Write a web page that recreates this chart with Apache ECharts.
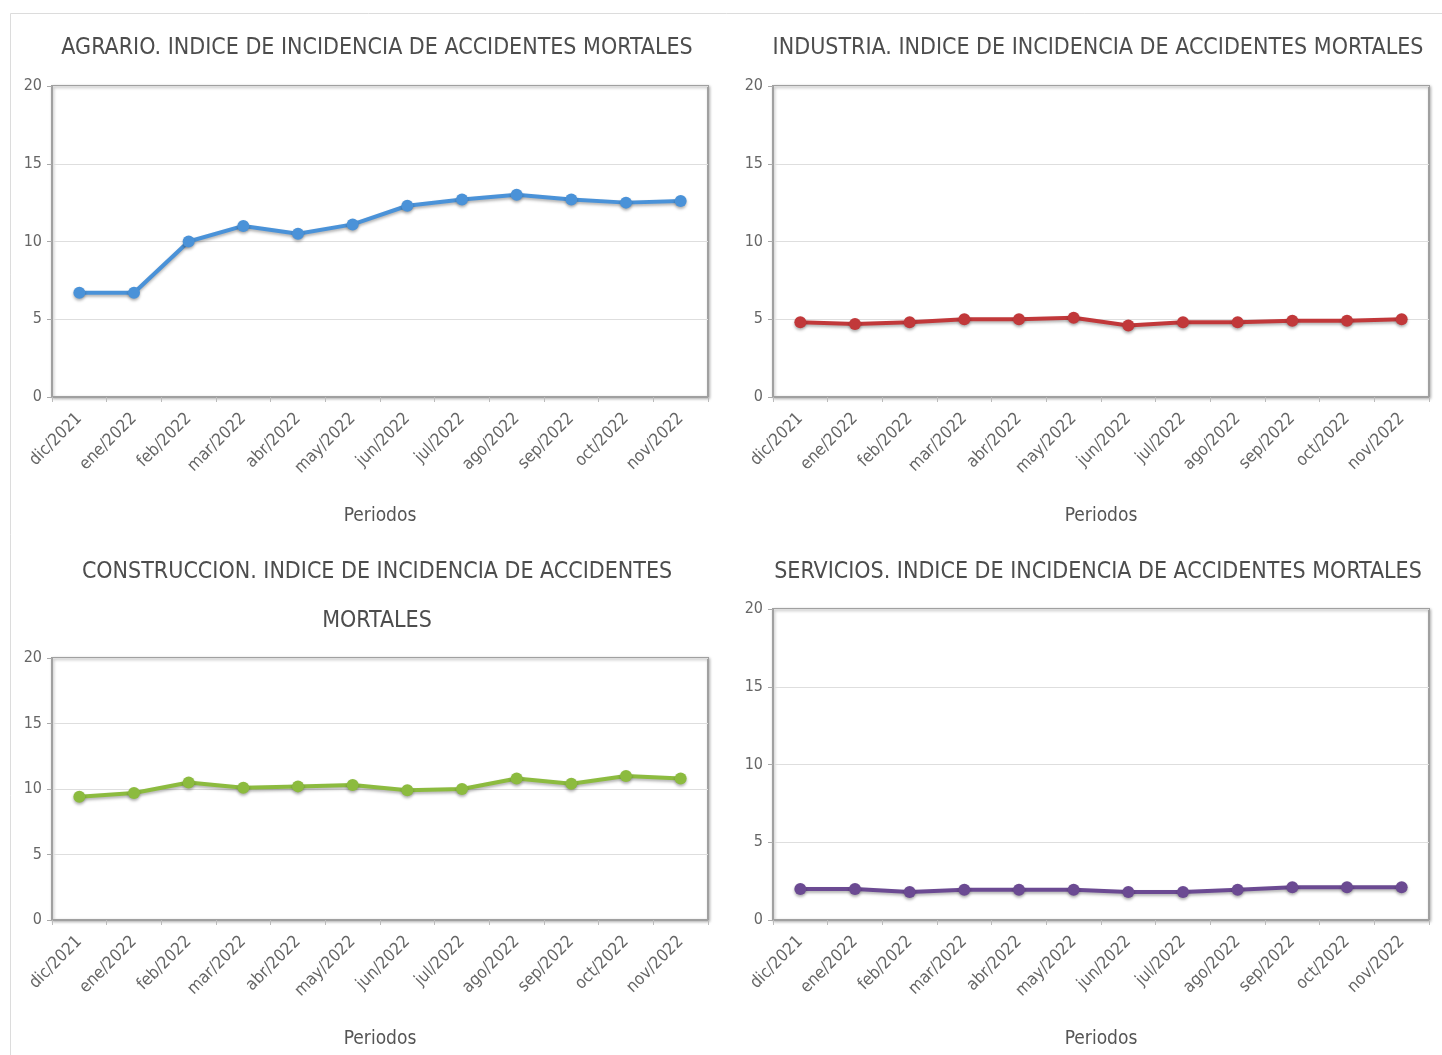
<!DOCTYPE html>
<html>
<head>
<meta charset="utf-8">
<script src="https://cdn.jsdelivr.net/npm/echarts@6/dist/echarts.min.js"></script>
<style>
html,body{margin:0;padding:0;background:#fff;}
#chart{width:1442px;height:1055px;}
</style>
</head>
<body>
<div id="chart"></div>
<script>
const periodos = ['dic/2021','ene/2022','feb/2022','mar/2022','abr/2022','may/2022','jun/2022','jul/2022','ago/2022','sep/2022','oct/2022','nov/2022'];
const yTicks = [0, 5, 10, 15, 20];
const titulos = [
  'AGRARIO. INDICE DE INCIDENCIA DE ACCIDENTES MORTALES',
  'INDUSTRIA. INDICE DE INCIDENCIA DE ACCIDENTES MORTALES',
  'CONSTRUCCION. INDICE DE INCIDENCIA DE ACCIDENTES\nMORTALES',
  'SERVICIOS. INDICE DE INCIDENCIA DE ACCIDENTES MORTALES'
];
const agrario      = [6.7, 6.7, 10.0, 11.0, 10.5, 11.1, 12.3, 12.7, 13.0, 12.7, 12.5, 12.6];
const industria    = [4.8, 4.7, 4.8, 5.0, 5.0, 5.1, 4.6, 4.8, 4.8, 4.9, 4.9, 5.0];
const construccion = [9.4, 9.7, 10.5, 10.1, 10.2, 10.3, 9.9, 10.0, 10.8, 10.4, 11.0, 10.8];
const servicios    = [2.0, 2.0, 1.8, 1.95, 1.95, 1.95, 1.8, 1.8, 1.95, 2.1, 2.1, 2.1];
const colores = ['#4a92d8', '#c1383a', '#8cbb3f', '#6b4a92'];
const datos = [agrario, industria, construccion, servicios];

const FONT = '"DejaVu Sans Condensed", "Liberation Sans Narrow", "Noto Sans", sans-serif';
const grids = [
  {left: 52, top: 86, width: 656, height: 311},
  {left: 773, top: 86, width: 656, height: 311},
  {left: 52, top: 658, width: 656, height: 262},
  {left: 773, top: 609, width: 656, height: 311}
];
const titlePos = [
  {left: 372, top: 19},
  {left: 1093, top: 19},
  {left: 372, top: 543},
  {left: 1093, top: 543}
];

const option = {
  backgroundColor: '#fff',
  animation: false,
  graphic: [{
    type: 'rect', silent: true,
    shape: {x: 10.5, y: 13.5, width: 1500, height: 1100},
    style: {fill: 'none', stroke: '#dcdcdc', lineWidth: 1}
  }],
  title: titulos.map((t, i) => ({
    text: t,
    left: titlePos[i].left, top: titlePos[i].top,
    textAlign: 'center',
    textStyle: {fontFamily: FONT, fontSize: 23, fontWeight: 'normal', color: '#4d4d4d', lineHeight: 49}
  })),
  grid: grids.map(g => Object.assign({
    show: true, borderColor: '#a0a0a0', borderWidth: 2, backgroundColor: '#fff',
    shadowColor: 'rgba(0,0,0,0.25)', shadowBlur: 3, shadowOffsetX: 1, shadowOffsetY: 1
  }, g)),
  xAxis: grids.map((g, i) => ({
    type: 'category', gridIndex: i, data: periodos, boundaryGap: true,
    name: 'Periodos', nameLocation: 'middle', nameGap: 110,
    nameTextStyle: {fontFamily: FONT, fontSize: 19, color: '#555'},
    axisLine: {show: true, lineStyle: {color: '#a0a0a0', width: 2}},
    axisTick: {show: true, length: 5, lineStyle: {color: '#bbb'}},
    axisLabel: {rotate: 45, fontFamily: FONT, fontSize: 17, color: '#666', margin: 19},
    splitLine: {show: false}
  })),
  yAxis: grids.map((g, i) => ({
    type: 'value', gridIndex: i, min: yTicks[0], max: yTicks[yTicks.length - 1], interval: 5,
    axisLine: {show: true, lineStyle: {color: '#a0a0a0', width: 2}},
    axisTick: {show: true, length: 5, lineStyle: {color: '#aaa'}},
    axisLabel: {fontFamily: FONT, fontSize: 16, color: '#666', margin: 10},
    splitLine: {show: true, lineStyle: {color: '#dedede', width: 1}}
  })),
  series: datos.map((d, i) => ({
    type: 'line', xAxisIndex: i, yAxisIndex: i, data: d,
    symbol: 'circle', symbolSize: 12,
    lineStyle: {color: colores[i], width: 4, shadowColor: 'rgba(0,0,0,0.3)', shadowBlur: 3, shadowOffsetY: 2},
    itemStyle: {color: colores[i], shadowColor: 'rgba(0,0,0,0.3)', shadowBlur: 3, shadowOffsetY: 2}
  }))
};
const chart = echarts.init(document.getElementById('chart'), null, {renderer: 'canvas'});
chart.setOption(option);
</script>
</body>
</html>
